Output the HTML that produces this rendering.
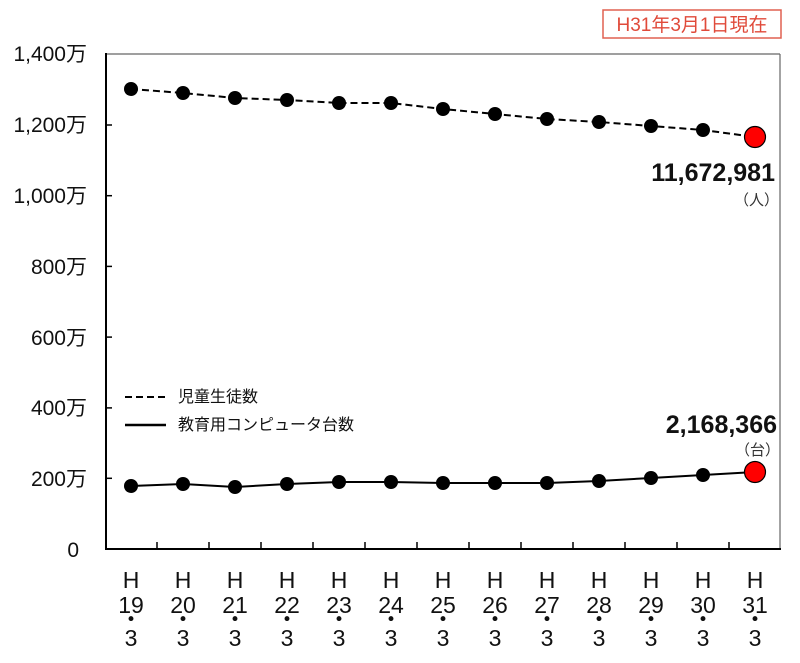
<!DOCTYPE html>
<html><head><meta charset="utf-8"><style>
html,body{margin:0;padding:0;background:#fff}
svg{display:block}
text{font-family:"Liberation Sans","Noto Sans CJK JP",sans-serif}
</style></head><body>
<svg width="800" height="663" viewBox="0 0 800 663">
<rect x="603" y="10" width="178" height="28" fill="#fff" stroke="#e06050" stroke-width="1.5"/>
<text x="692" y="31" font-size="19" fill="#e04a3a" text-anchor="middle">H31年3月1日現在</text>
<line x1="106" y1="54" x2="780" y2="54" stroke="#666" stroke-width="1.2"/>
<line x1="780" y1="54" x2="780" y2="549" stroke="#666" stroke-width="1.2"/>
<line x1="106" y1="53" x2="106" y2="550" stroke="#000" stroke-width="2"/>
<line x1="105" y1="549" x2="781" y2="549" stroke="#000" stroke-width="2"/>
<g stroke="#000" stroke-width="1.5">
<line x1="106" y1="125" x2="112" y2="125"/><line x1="106" y1="195.7" x2="112" y2="195.7"/>
<line x1="106" y1="266.4" x2="112" y2="266.4"/><line x1="106" y1="337.1" x2="112" y2="337.1"/>
<line x1="106" y1="407.9" x2="112" y2="407.9"/><line x1="106" y1="478.3" x2="112" y2="478.3"/>
<line x1="157" y1="549" x2="157" y2="542"/><line x1="209" y1="549" x2="209" y2="542"/>
<line x1="261" y1="549" x2="261" y2="542"/><line x1="313" y1="549" x2="313" y2="542"/>
<line x1="365" y1="549" x2="365" y2="542"/><line x1="417" y1="549" x2="417" y2="542"/>
<line x1="469" y1="549" x2="469" y2="542"/><line x1="521" y1="549" x2="521" y2="542"/>
<line x1="573" y1="549" x2="573" y2="542"/><line x1="625" y1="549" x2="625" y2="542"/>
<line x1="677" y1="549" x2="677" y2="542"/><line x1="729" y1="549" x2="729" y2="542"/>
</g>
<g font-size="21" text-anchor="end" fill="#111">
<text x="87" y="61">1,400万</text><text x="87" y="132">1,200万</text>
<text x="87" y="203">1,000万</text><text x="87" y="274">800万</text>
<text x="87" y="345">600万</text><text x="87" y="415">400万</text>
<text x="87" y="486">200万</text><text x="79" y="557">0</text>
</g>
<polyline fill="none" stroke="#000" stroke-width="2" stroke-dasharray="7,4" points="131,89 183,93 235,98 287,100 339,103 391,103 443,109 495,114 547,119 599,122 651,126 703,130 755,137"/>
<polyline fill="none" stroke="#000" stroke-width="2" points="131,486 183,484 235,487 287,484 339,482 391,482 443,483 495,483 547,483 599,481 651,478 703,475 755,472"/>
<g fill="#000">
<circle cx="131" cy="89" r="7"/><circle cx="183" cy="93" r="7"/><circle cx="235" cy="98" r="7"/><circle cx="287" cy="100" r="7"/><circle cx="339" cy="103" r="7"/><circle cx="391" cy="103" r="7"/><circle cx="443" cy="109" r="7"/><circle cx="495" cy="114" r="7"/><circle cx="547" cy="119" r="7"/><circle cx="599" cy="122" r="7"/><circle cx="651" cy="126" r="7"/><circle cx="703" cy="130" r="7"/>
<circle cx="131" cy="486" r="7"/><circle cx="183" cy="484" r="7"/><circle cx="235" cy="487" r="7"/><circle cx="287" cy="484" r="7"/><circle cx="339" cy="482" r="7"/><circle cx="391" cy="482" r="7"/><circle cx="443" cy="483" r="7"/><circle cx="495" cy="483" r="7"/><circle cx="547" cy="483" r="7"/><circle cx="599" cy="481" r="7"/><circle cx="651" cy="478" r="7"/><circle cx="703" cy="475" r="7"/>
</g>
<circle cx="755" cy="137" r="10.5" fill="#f00" stroke="#000" stroke-width="1.2"/>
<circle cx="755" cy="472" r="10.5" fill="#f00" stroke="#000" stroke-width="1.2"/>
<text x="775" y="181" font-size="25" font-weight="bold" text-anchor="end" fill="#111">11,672,981</text>
<text x="779" y="205" font-size="15" text-anchor="end" fill="#333">（人）</text>
<text x="777" y="433" font-size="25" font-weight="bold" text-anchor="end" fill="#111">2,168,366</text>
<text x="780" y="455" font-size="15" text-anchor="end" fill="#333">（台）</text>
<line x1="125" y1="397" x2="167" y2="397" stroke="#000" stroke-width="2" stroke-dasharray="7,4"/>
<line x1="125" y1="425" x2="166" y2="425" stroke="#000" stroke-width="2.5"/>
<text x="178" y="402" font-size="16" fill="#111">児童生徒数</text>
<text x="178" y="430" font-size="16" fill="#111">教育用コンピュータ台数</text>
<g font-size="23" text-anchor="middle" fill="#111">
<text x="131" y="588">H</text><text x="131" y="613">19</text><text x="131" y="627">・</text><text x="131" y="646">3</text>
<text x="183" y="588">H</text><text x="183" y="613">20</text><text x="183" y="627">・</text><text x="183" y="646">3</text>
<text x="235" y="588">H</text><text x="235" y="613">21</text><text x="235" y="627">・</text><text x="235" y="646">3</text>
<text x="287" y="588">H</text><text x="287" y="613">22</text><text x="287" y="627">・</text><text x="287" y="646">3</text>
<text x="339" y="588">H</text><text x="339" y="613">23</text><text x="339" y="627">・</text><text x="339" y="646">3</text>
<text x="391" y="588">H</text><text x="391" y="613">24</text><text x="391" y="627">・</text><text x="391" y="646">3</text>
<text x="443" y="588">H</text><text x="443" y="613">25</text><text x="443" y="627">・</text><text x="443" y="646">3</text>
<text x="495" y="588">H</text><text x="495" y="613">26</text><text x="495" y="627">・</text><text x="495" y="646">3</text>
<text x="547" y="588">H</text><text x="547" y="613">27</text><text x="547" y="627">・</text><text x="547" y="646">3</text>
<text x="599" y="588">H</text><text x="599" y="613">28</text><text x="599" y="627">・</text><text x="599" y="646">3</text>
<text x="651" y="588">H</text><text x="651" y="613">29</text><text x="651" y="627">・</text><text x="651" y="646">3</text>
<text x="703" y="588">H</text><text x="703" y="613">30</text><text x="703" y="627">・</text><text x="703" y="646">3</text>
<text x="755" y="588">H</text><text x="755" y="613">31</text><text x="755" y="627">・</text><text x="755" y="646">3</text>
</g>
</svg>
</body></html>
